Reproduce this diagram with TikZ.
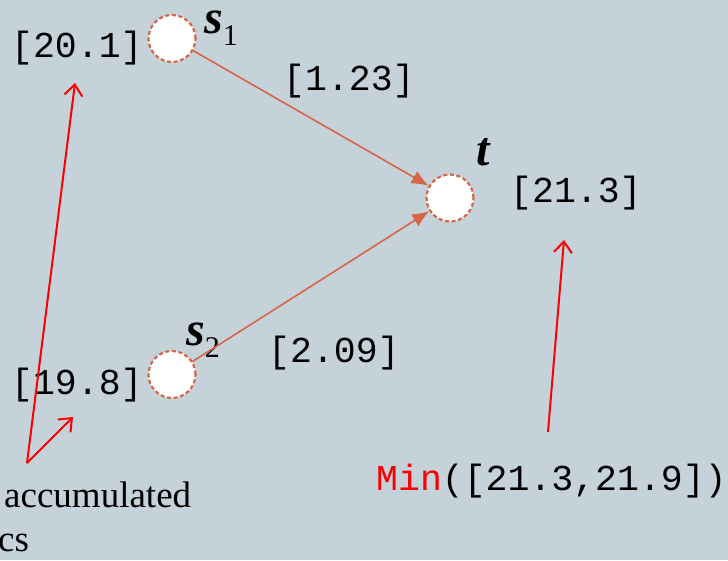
\documentclass[tikz,border=0pt]{standalone}
\usepackage{fontspec}
\setmainfont{Liberation Serif}
\setmonofont{Liberation Mono}
\usetikzlibrary{arrows.meta}
\definecolor{bgc}{RGB}{198,210,217}
\definecolor{edgec}{RGB}{214,102,72}
\definecolor{notec}{RGB}{250,0,0}
\begin{document}
\begin{tikzpicture}[x=1pt,y=-1pt,
  vertex/.style={circle,fill=white,draw=edgec,line width=2.2pt,dash pattern=on 4pt off 2.6pt,minimum size=47pt,inner sep=0pt},
  weight/.style={anchor=base west,inner sep=0pt,font=\fontsize{36.5}{40}\selectfont\ttfamily},
  vname/.style={anchor=base west,inner sep=0pt,font=\fontsize{48}{50}\selectfont\bfseries\itshape},
  prose/.style={anchor=base west,inner sep=0pt,font=\fontsize{37}{44}\selectfont},
  flow/.style={draw=edgec,line width=1.6pt,-{Latex[length=17pt,width=14pt]}},
  hint/.style={draw=notec,line width=2pt,-{Straight Barb[length=11pt,width=18pt,line width=2pt]}}]
\useasboundingbox (0,0) rectangle (728,560);
\fill[bgc] (0,0) rectangle (728,560);

% vertices
\node[vertex] (s1) at (172,38.5) {};
\node[vertex] (s2) at (172,374.5) {};
\node[vertex] (t)  at (450,198) {};

% vertex names
\node[vname] (s1n) at (204,33) {s\raisebox{-12pt}{\fontsize{30}{30}\selectfont\mdseries\upshape 1}};
\node[vname] (s2n) at (186,345) {s\raisebox{-12pt}{\fontsize{30}{30}\selectfont\mdseries\upshape 2}};
\node[vname] (tn)  at (476,165) {t};

% edges
\draw[flow] (s1) -- (t);
\draw[flow] (s2) -- (t);

% labels
\node[weight] (w1)  at (11,57)   {[20.1]};
\node[weight] (w2)  at (11,394)  {[19.8]};
\node[weight] (wt)  at (510,202) {[21.3]};
\node[weight] (e1)  at (283,90)  {[1.23]};
\node[weight] (e2)  at (268,362) {[2.09]};
\node[weight] (mn)  at (376,490) {\textcolor{notec}{Min}([21.3,21.9])};

% caption
\node[prose] (c1) at (4,507) {accumulated};
\node[prose] (c2) at (-2,551) {cs};

% pointers
\coordinate (v) at (27,463);
\coordinate (p1) at (75,83);
\coordinate (p2) at (73,417);
\coordinate (q0) at (548,432);
\coordinate (q1) at (564,240);
\draw[hint] (v) -- (p1);
\draw[hint] (v) -- (p2);
\draw[hint] (q0) -- (q1);
\end{tikzpicture}
\end{document}
